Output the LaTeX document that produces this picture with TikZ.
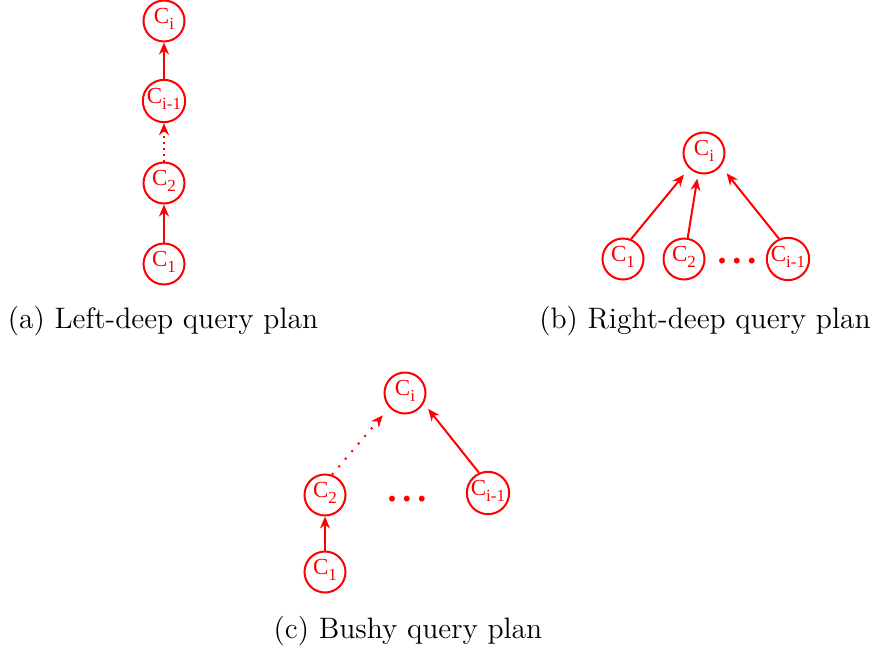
\documentclass[tikz,border=0pt]{standalone}
\usepackage{fontspec}
\newfontfamily\relfont{Liberation Serif}
\usetikzlibrary{arrows.meta}
\newcommand{\csub}[1]{\raisebox{-3pt}{\fontsize{8.5}{8.5}\selectfont #1}}

\begin{document}
\begin{tikzpicture}[x=0.5pt, y=-0.5pt, >={Stealth[length=6pt,width=5pt]}, line width=1pt, red,
  tab/.style={circle, draw, minimum size=20.5pt, inner sep=0pt, text height=7.5pt, text depth=5pt,
    font=\relfont\fontsize{11.5}{13}\selectfont},
  lbl/.style={anchor=base, font=\fontsize{14.8}{18}\selectfont, black},
  more/.style={anchor=base, font=\relfont\bfseries\fontsize{18}{18}\selectfont},
  skip/.style={dash pattern=on 1pt off 2pt}
]
\useasboundingbox (0,0) rectangle (874,649);

% (a) left-deep
\node[tab] (ai) at (164,21) {C\csub{i}};
\node[tab] (aim1) at (164,101) {C\csub{i-1}};
\node[tab] (a2) at (164,183) {C\csub{2}};
\node[tab] (a1) at (164,264) {C\csub{1}};
\node[lbl] (capa) at (163,328) {(a) Left-deep query plan};

\draw[->] (a1) -- (a2);
\draw[->, skip] (a2) -- (aim1);
\draw[->] (aim1) -- (ai);

% (b) right-deep
\node[tab] (bi) at (704,153) {C\csub{i}};
\node[tab] (b1) at (623,259) {C\csub{1}};
\node[tab] (b2) at (684,259) {C\csub{2}};
\node[more] (bdots) at (737,263) {.\hspace{3pt}.\hspace{3pt}.};
\node[tab] (bim1) at (788,259) {C\csub{i-1}};
\node[lbl] (capb) at (705,328) {(b) Right-deep query plan};

\draw[->, shorten >=4pt] (b1.68) -- (bi.226);
\draw[->, shorten >=2.5pt] (b2.80) -- (bi.254);
\draw[->, shorten >=4.5pt] (bim1.114) -- (bi.322);

% (c) bushy
\node[tab] (ci) at (405,393) {C\csub{i}};
\node[tab] (c2) at (325,495) {C\csub{2}};
\node[more] (cdots) at (407,501) {.\hspace{3pt}.\hspace{3pt}.};
\node[tab] (cim1) at (488,493) {C\csub{i-1}};
\node[tab] (c1) at (325,572) {C\csub{1}};
\node[lbl] (capc) at (408,638) {(c) Bushy query plan};

\draw[->] (c1) -- (c2);
\draw[->, dash pattern=on 1pt off 4pt, shorten >=5pt] (c2.71) -- (ci.223);
\draw[->, shorten >=3.5pt] (cim1.114) -- (ci.331);

\end{tikzpicture}
\end{document}
